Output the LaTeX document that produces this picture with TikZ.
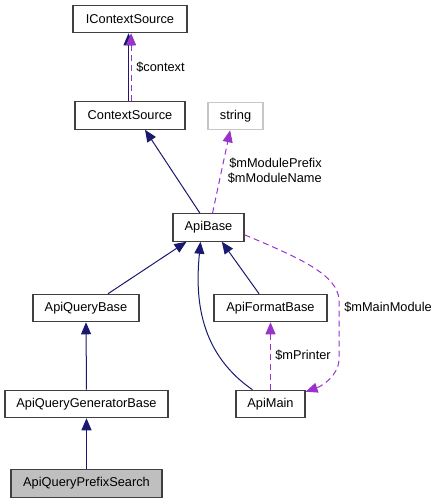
\documentclass[tikz,border=0pt]{standalone}
\usepackage{fontspec}
\setmainfont{Liberation Sans}
\usetikzlibrary{arrows.meta,calc}
\definecolor{navy}{HTML}{191970}
\definecolor{purp}{HTML}{9A32CD}
\definecolor{boxline}{HTML}{404040}
\begin{document}
\begin{tikzpicture}[x=0.75pt,y=-0.75pt,
  font=\fontsize{9.6pt}{11.5pt}\selectfont,
  cls/.style={draw=boxline,line width=0.9pt,fill=white,minimum height=20.5pt,inner sep=0pt},
  inh/.style={navy,line width=0.75pt,-{Triangle[length=9pt,width=7.5pt]}},
  use/.style={purp,line width=0.75pt,dash pattern=on 4.5pt off 3pt,-{Triangle[length=9pt,width=7.5pt]}},
  lbl/.style={inner sep=0pt}]
\useasboundingbox (0,0) rectangle (439,504);
% nodes
\node[cls,minimum width=85.5pt] (ics) at (130,19) {IContextSource};
\node[cls,minimum width=82.5pt] (cs) at (130,115.5) {ContextSource};
\node[cls,draw=gray!45,minimum width=41.25pt] (str) at (235.5,116) {string};
\node[cls,minimum width=53.25pt] (ab) at (208.5,227.5) {ApiBase};
\node[cls,minimum width=79.5pt] (aqb) at (86,308) {ApiQueryBase};
\node[cls,minimum width=84.75pt] (afb) at (270.5,308) {ApiFormatBase};
\node[cls,minimum width=122.25pt] (aqgb) at (86.5,404) {ApiQueryGeneratorBase};
\node[cls,minimum width=51.75pt] (am) at (270.5,404) {ApiMain};
\node[cls,fill=gray!50,minimum width=113.25pt] (aqps) at (86.5,483.5) {ApiQueryPrefixSearch};
% edges
\draw[inh] ([xshift=-1.1pt]cs.north) -- ([xshift=-1.1pt]ics.south);
\draw[use] ([xshift=0.8pt]cs.north) -- ([xshift=0.8pt]ics.south);
\node[lbl,anchor=west] (lctx) at (136,67) {\$context};
\draw[inh] ([xshift=-6.4pt]ab.north) -- ([xshift=11.25pt]cs.south);
\draw[use] ([xshift=3pt]ab.north) -- ([xshift=-4pt]str.south);
\node[lbl,anchor=east,align=right] (lmod) at (322,171) {\$mModulePrefix\\\$mModuleName};
\draw[inh] ([xshift=16.5pt]aqb.north) -- ([xshift=-16.5pt]ab.south);
\draw[inh] ([xshift=-13.5pt]am.north) .. controls (195,350) and (196,290) .. ([xshift=-6pt]ab.south);
\draw[inh] ([xshift=-8.6pt]afb.north) -- ([xshift=10pt]ab.south);
\draw[inh] (aqgb.north) -- (aqb.south);
\draw[inh] (aqps.north) -- (aqgb.south);
\draw[use] (am.north) -- (afb.south);
\node[lbl,anchor=west] (lpr) at (275,355) {\$mPrinter};
\draw[use] ([yshift=-5.5pt]ab.east) .. controls (300,258) and (338,275) .. (339,300) -- (339,360) .. controls (338,376) and (322,386) .. ([yshift=-1.5pt]am.north east);
\node[lbl,anchor=west] (lmm) at (344,307) {\$mMainModule};
\end{tikzpicture}
\end{document}
